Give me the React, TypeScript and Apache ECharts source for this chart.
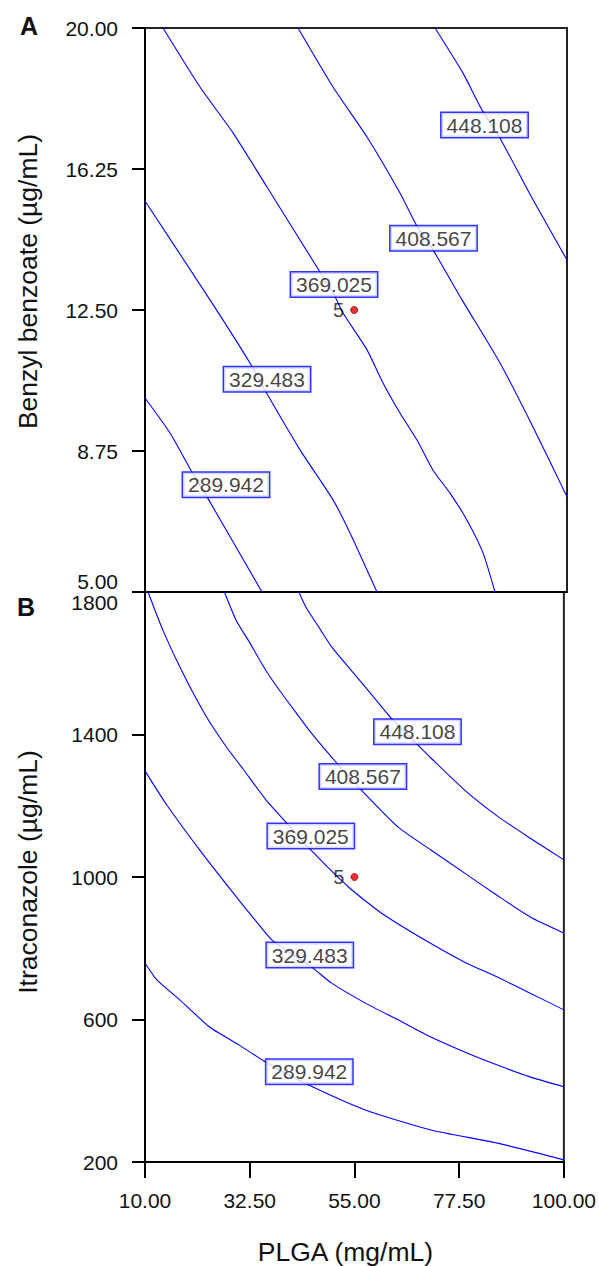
import React, { useEffect, useRef } from "react";
import * as echarts from "echarts";

// Axis ticks
const X_TICKS = [10, 32.5, 55, 77.5, 100];
const A_Y_TICKS = [5, 8.75, 12.5, 16.25, 20];
const B_Y_TICKS = [200, 600, 1000, 1400, 1800];

// Panel A: PLGA (x) vs Benzyl benzoate (y) contour lines
const A_289942 = [[10, 10.16], [15.33, 9.23], [20.02, 8.19], [23.22, 7.53], [34.95, 5.0]];
const A_329483 = [[10, 15.4], [23.86, 12.77], [32.39, 11.09], [36.02, 10.27], [43.06, 8.78], [50.1, 7.45], [53.72, 6.57], [59.48, 5.0]];
const A_369025 = [[13.84, 20], [21.73, 18.43], [28.77, 17.21], [36.02, 15.77], [43.06, 14.36], [47.32, 13.51], [50.52, 12.85], [52.23, 12.42], [57.35, 11.44], [60.76, 10.56], [64.38, 9.76], [68.01, 9.04], [71.42, 8.24], [75.05, 7.63], [78.67, 6.91], [82.09, 6.04], [84.64, 5.0]];
const A_408567 = [[42.63, 20], [50.1, 18.43], [57.35, 17.1], [64.38, 15.61], [68.01, 14.73], [71.42, 14.1], [77.61, 12.77], [85.71, 11.09], [92.75, 9.39], [100, 7.53]];
const A_448108 = [[71.85, 20], [77.82, 18.8], [81.87, 17.82], [85.71, 17.07], [92.75, 15.43], [100, 13.83]];
const A_LABELS = [
  [27.27, 7.85, "289.942"],
  [36.02, 10.66, "329.483"],
  [50.31, 13.18, "369.025"],
  [71.53, 14.41, "408.567"],
  [82.41, 17.42, "448.108"],
];
const A_POINT = [[54.6, 12.5, "5"]];

// Panel B: PLGA (x) vs Itraconazole (y) contour lines
const B_289942 = [[10, 758.6], [12.56, 711], [17.46, 655], [23.86, 579], [30.26, 528], [36.23, 478], [45.19, 416], [57.35, 346], [71.42, 290], [85.71, 253], [100, 206]];
const B_329483 = [[10, 1298], [14.69, 1202], [21.73, 1076], [28.77, 958], [34.53, 865], [37.3, 823], [45.83, 747], [50.1, 702], [57.35, 646], [64.38, 599], [71.42, 551], [78.67, 509], [85.71, 472], [92.75, 439], [100, 411]];
const B_369025 = [[10.64, 1800], [13.84, 1693], [18.1, 1573], [23.22, 1449], [27.49, 1365], [30.9, 1306], [36.02, 1216], [40.28, 1154], [45.62, 1076], [53.72, 972], [60.76, 899], [70.14, 823], [78.67, 761], [85.71, 719], [92.75, 674], [100, 627]];
const B_408567 = [[27.06, 1800], [29.6, 1720], [32.4, 1660], [34.5, 1612], [36.7, 1565], [39.4, 1515], [42.4, 1462], [45.2, 1413], [48.8, 1356], [51.2, 1320], [56.49, 1244], [64.38, 1140], [71.42, 1076], [78.67, 1011], [85.71, 948], [92.75, 888], [100, 843]];
const B_448108 = [[43.06, 1800], [44.55, 1758], [47.32, 1702], [50.1, 1646], [53.72, 1589], [57.35, 1533], [62.68, 1449], [68.65, 1370], [71.42, 1334], [78.67, 1244], [85.71, 1171], [92.75, 1109], [100, 1048]];
const B_LABELS = [
  [45.3, 453, "289.942"],
  [45.4, 781, "329.483"],
  [45.62, 1115, "369.025"],
  [56.81, 1282, "408.567"],
  [68.54, 1408, "448.108"],
];
const B_POINT = [[55, 1000, "5"]];

const FONT = "Liberation Sans, Arial, sans-serif";
const TXT = "#111";
const BLUE = "#0000ff";

function lineSeries(data: number[][], gi: number) {
  return {
    type: "line",
    xAxisIndex: gi,
    yAxisIndex: gi,
    data,
    showSymbol: false,
    symbol: "none",
    smooth: 0.2,
    silent: true,
    z: 2,
    lineStyle: { color: BLUE, width: 1.1 },
  };
}

function labelSeries(data: any[], gi: number) {
  return {
    type: "scatter",
    xAxisIndex: gi,
    yAxisIndex: gi,
    data,
    symbolSize: 0,
    silent: true,
    z: 5,
    label: {
      show: true,
      position: "inside",
      formatter: (p: any) => p.value[2],
      fontFamily: FONT,
      fontSize: 21,
      lineHeight: 21,
      color: TXT,
      backgroundColor: "#fff",
      borderColor: BLUE,
      borderWidth: 1.5,
      padding: [2, 5, 1, 5],
    },
  };
}

function pointSeries(data: any[], gi: number) {
  return {
    type: "scatter",
    xAxisIndex: gi,
    yAxisIndex: gi,
    data,
    symbolSize: 7,
    silent: true,
    z: 6,
    itemStyle: { color: "#e00000", borderColor: "#900", borderWidth: 1 },
    label: {
      show: true,
      position: "left",
      distance: 6,
      formatter: (p: any) => p.value[2],
      fontFamily: FONT,
      fontSize: 20,
      color: TXT,
    },
  };
}

const axisLineStyle = { show: true, onZero: false, lineStyle: { color: "#000", width: 2 } };
const titleStyle = { fontFamily: FONT, fontSize: 26.5, color: TXT };

export default function App() {
  const ref = useRef<HTMLDivElement>(null);
  useEffect(() => {
    document.body.style.margin = "0";
    const chart = echarts.init(ref.current!, null, { renderer: "svg" });
    const option: any = {
      animation: false,
      backgroundColor: "#fff",
      textStyle: { fontFamily: FONT },
      grid: [
        { left: 145, top: 28, width: 422, height: 564, show: true, borderColor: "#222", borderWidth: 2, backgroundColor: "transparent" },
        { left: 145, top: 592, width: 422, height: 570, show: true, borderColor: "#222", borderWidth: 2, backgroundColor: "transparent" },
      ],
      xAxis: [
        {
          type: "value", gridIndex: 0, min: 10, max: 100,
          axisLine: axisLineStyle, axisTick: { show: false }, axisLabel: { show: false }, splitLine: { show: false },
        },
        {
          type: "value", gridIndex: 1, min: 10, max: 100,
          name: "PLGA (mg/mL)", nameLocation: "middle", nameGap: 76,
          nameTextStyle: { ...titleStyle, padding: [0, 18, 0, 0] },
          axisLine: axisLineStyle,
          axisTick: { show: true, customValues: X_TICKS, length: 16, lineStyle: { color: "#000", width: 2 } },
          axisLabel: {
            show: true, customValues: X_TICKS, margin: 28, fontFamily: FONT, fontSize: 21, color: TXT,
            formatter: (v: number) => v.toFixed(2),
          },
          splitLine: { show: false },
        },
      ],
      yAxis: [
        {
          type: "value", gridIndex: 0, min: 5, max: 20,
          name: "Benzyl benzoate (µg/mL)", nameLocation: "middle", nameGap: 104,
          nameTextStyle: { ...titleStyle, padding: [0, 0, 0, 57] },
          axisLine: axisLineStyle,
          axisTick: { show: true, customValues: A_Y_TICKS, length: 13, lineStyle: { color: "#000", width: 2 } },
          axisLabel: {
            show: true, customValues: A_Y_TICKS, margin: 27, fontFamily: FONT, fontSize: 21, color: TXT,
            formatter: (v: number) => v.toFixed(2),
            verticalAlignMinLabel: "bottom",
          },
          splitLine: { show: false },
        },
        {
          type: "value", gridIndex: 1, min: 200, max: 1800,
          name: "Itraconazole (µg/mL)", nameLocation: "middle", nameGap: 104,
          nameTextStyle: { ...titleStyle, padding: [0, 0, 0, 10] },
          axisLine: axisLineStyle,
          axisTick: { show: true, customValues: B_Y_TICKS, length: 13, lineStyle: { color: "#000", width: 2 } },
          axisLabel: {
            show: true, customValues: B_Y_TICKS, margin: 27, fontFamily: FONT, fontSize: 21, color: TXT,
            formatter: (v: number) => String(v),
            verticalAlignMaxLabel: "top",
          },
          splitLine: { show: false },
        },
      ],
      graphic: [
        { type: "text", x: 29, y: 26, z: 10, style: { text: "A", font: `bold 25px ${FONT}`, fill: TXT, align: "center", verticalAlign: "middle", textAlign: "center", textVerticalAlign: "middle" } },
        { type: "text", x: 26, y: 607, z: 10, style: { text: "B", font: `bold 25px ${FONT}`, fill: TXT, align: "center", verticalAlign: "middle", textAlign: "center", textVerticalAlign: "middle" } },
      ],
      series: [
        lineSeries(A_289942, 0),
        lineSeries(A_329483, 0),
        lineSeries(A_369025, 0),
        lineSeries(A_408567, 0),
        lineSeries(A_448108, 0),
        labelSeries(A_LABELS, 0),
        pointSeries(A_POINT, 0),
        lineSeries(B_289942, 1),
        lineSeries(B_329483, 1),
        lineSeries(B_369025, 1),
        lineSeries(B_408567, 1),
        lineSeries(B_448108, 1),
        labelSeries(B_LABELS, 1),
        pointSeries(B_POINT, 1),
      ],
    };
    chart.setOption(option);
    return () => chart.dispose();
  }, []);
  return <div ref={ref} style={{ width: 599, height: 1266 }} />;
}
